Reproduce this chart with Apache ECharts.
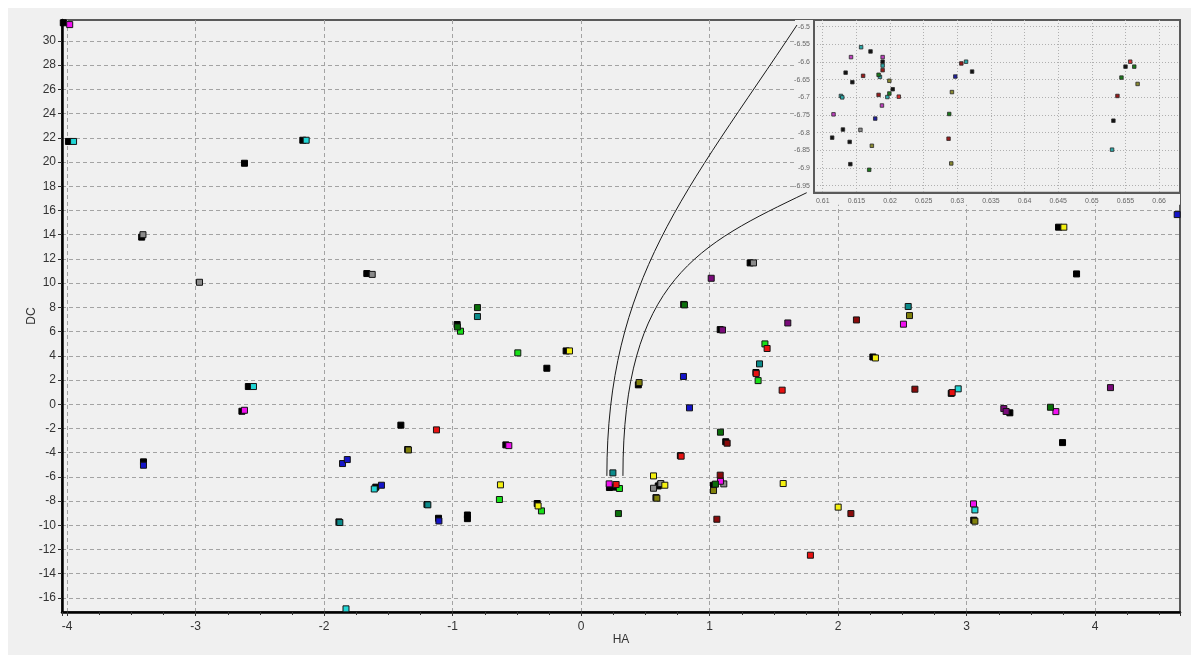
<!DOCTYPE html>
<html>
<head>
<meta charset="utf-8">
<script src="https://cdn.jsdelivr.net/npm/echarts@6/dist/echarts.min.js"></script>
<style>
  html, body { margin: 0; padding: 0; background: #ffffff; width: 1191px; height: 655px; overflow: hidden; }
  #chart { position: absolute; left: 8px; top: 8px; width: 1183px; height: 647px; }
</style>
</head>
<body>
<div id="chart"></div>
<script>
// ---- main plot points, [HA, DC] ----
const blackPts = [
  [-4.03, 31.5], [-3.99, 21.7], [-3.42, 13.8], [-2.62, 19.9], [-2.166, 21.8],
  [-2.59, 1.46], [-2.64, -0.58], [-3.406, -4.76], [-1.885, -9.72], [-1.668, 10.79],
  [-0.965, 6.58], [-0.117, 4.4], [-0.267, 2.97], [-1.403, -1.73], [-0.586, -3.36],
  [-1.35, -3.74], [-1.598, -6.85], [-1.2, -8.28], [-1.11, -9.42], [-0.885, -9.15],
  [-0.885, -9.45], [-0.342, -8.2], [0.22, -6.88], [0.265, -6.85], [0.615, -6.63],
  [0.6, -6.75], [0.582, -7.72], [0.445, 1.6], [0.772, -4.25], [1.315, 11.67],
  [1.082, 6.16], [1.36, 2.62], [1.03, -6.69], [1.125, -3.1], [2.27, 3.9],
  [3.715, 14.62], [3.855, 10.76], [2.88, 0.9], [3.336, -0.71], [3.746, -3.17],
  [3.055, -9.58], [0.798, 8.24]
];
const grayPts = [
  [-3.41, 14.0], [-2.97, 10.07], [-1.626, 10.72], [0.563, -6.94], [0.62, -6.55],
  [1.341, 11.67], [1.11, -6.58]
];
const cyanPts = [
  [-3.95, 21.7], [-2.14, 21.8], [-2.55, 1.46], [-1.83, -16.9], [-1.61, -7.0],
  [2.934, 1.27], [3.064, -8.73]
];
const tealPts = [
  [-1.878, -9.77], [-0.807, 7.24], [-1.193, -8.31], [0.247, -5.67], [1.388, 3.33],
  [2.545, 8.07]
];
const magentaPts = [
  [-3.98, 31.35], [-2.62, -0.5], [-0.563, -3.42], [0.218, -6.58], [1.084, -6.36],
  [2.508, 6.61], [3.694, -0.61], [3.053, -8.23]
];
const purplePts = [
  [1.012, 10.4], [1.1, 6.13], [1.608, 6.71], [4.119, 1.37], [3.289, -0.36], [3.307, -0.6]
];
const bluePts = [
  [-3.406, -5.04], [-1.857, -4.9], [-1.82, -4.57], [-1.554, -6.69], [-1.107, -9.64],
  [0.796, 2.29], [0.843, -0.3], [4.638, 15.66]
];
const limePts = [
  [-0.939, 6.03], [-0.493, 4.24], [-0.636, -7.87], [-0.309, -8.81], [0.298, -6.96],
  [1.43, 4.98], [1.377, 1.95]
];
const darkGreenPts = [
  [-0.807, 7.98], [-0.963, 6.38], [0.29, -9.03], [0.804, 8.2], [1.084, -2.31],
  [1.045, -6.6], [3.652, -0.25]
];
const yellowPts = [
  [-0.091, 4.4], [-0.628, -6.66], [-0.335, -8.4], [0.563, -5.92], [0.651, -6.69],
  [1.572, -6.55], [2.0, -8.5], [2.29, 3.82], [3.756, 14.62]
];
const olivePts = [
  [-1.344, -3.78], [0.451, 1.79], [0.589, -7.76], [1.03, -7.13], [2.555, 7.32], [3.064, -9.66]
];
const redPts = [
  [-1.126, -2.12], [0.778, -4.29], [0.272, -6.63], [1.447, 4.6], [1.362, 2.53],
  [1.564, 1.16], [1.784, -12.47], [2.887, 0.96]
];
const darkRedPts = [
  [1.136, -3.22], [1.082, -5.86], [1.056, -9.5], [2.099, -9.03], [2.142, 6.96], [2.597, 1.24]
];

// ---- magnified view points ----
const insetBlack = [
  [0.6171, -6.570], [0.6189, -6.599], [0.6134, -6.630], [0.6144, -6.657], [0.6204, -6.677],
  [0.6130, -6.791], [0.6114, -6.814], [0.6140, -6.826], [0.6141, -6.889], [0.6322, -6.627],
  [0.6550, -6.613], [0.6532, -6.766]
];
const insetGray = [[0.6156, -6.792]];
const insetTeal = [
  [0.6157, -6.558], [0.6189, -6.610], [0.6185, -6.642], [0.6127, -6.696], [0.6129, -6.700],
  [0.6196, -6.699], [0.6313, -6.599], [0.6530, -6.848]
];
const insetMagenta = [[0.6142, -6.586], [0.6189, -6.586], [0.6188, -6.723], [0.6116, -6.748]];
const insetNavy = [[0.6178, -6.760], [0.6297, -6.641]];
const insetDarkRed = [
  [0.6189, -6.623], [0.6160, -6.639], [0.6183, -6.693], [0.6306, -6.604], [0.6287, -6.817],
  [0.6538, -6.696]
];
const insetRed = [[0.6213, -6.698], [0.6557, -6.599]];
const insetDarkGreen = [
  [0.6183, -6.636], [0.6199, -6.689], [0.6288, -6.747], [0.6169, -6.905], [0.6544, -6.644],
  [0.6563, -6.613]
];
const insetOlive = [
  [0.6199, -6.653], [0.6173, -6.837], [0.6292, -6.685], [0.6291, -6.887], [0.6568, -6.662]
];

// axis extents
const haRange = [-4.04, 4.66];
const dcRange = [-17.16, 31.73];
const insetHaRange = [0.6087, 0.6631];
const insetDcRange = [-6.9698, -6.481];
// region of the main plot that the callout lines start from
const calloutFrom = { ha0: 0.2, ha1: 0.325, dc: -5.92 };

const chart = echarts.init(document.getElementById('chart'), null, { renderer: 'canvas' });
const FONT = 'Liberation Sans, Arial, sans-serif';

function mainSeries(color, data, border) {
  return {
    type: 'scatter', xAxisIndex: 0, yAxisIndex: 0, data: data,
    symbol: 'rect', symbolSize: 6, silent: true, z: 2,
    itemStyle: { color: color, borderColor: border || '#141414', borderWidth: 1, opacity: 1 }
  };
}
function insetSeries(color, data) {
  return {
    type: 'scatter', xAxisIndex: 1, yAxisIndex: 1, data: data,
    symbol: 'rect', symbolSize: 3.5, silent: true, z: 8,
    itemStyle: { color: color, borderColor: '#2a2a2a', borderWidth: 0.8, opacity: 1 }
  };
}

const dashed = { color: '#a3a3a3', width: 1, type: [4, 3] };
const dotted = { color: '#b0b0b0', width: 1, type: [1, 2] };

chart.setOption({
  backgroundColor: '#f0f0f0',
  animation: false,
  textStyle: { fontFamily: FONT },
  grid: [
    { left: 54, top: 12, right: 11, bottom: 43, show: true, backgroundColor: '#f0f0f0',
      borderColor: '#5a5a5a', borderWidth: 2, z: 0 },
    { left: 806, top: 12, width: 366, height: 172.7, show: true, backgroundColor: '#f0f0f0',
      borderColor: '#5a5a5a', borderWidth: 2, z: 6 }
  ],
  xAxis: [
    {
      type: 'value', gridIndex: 0, min: haRange[0], max: haRange[1], splitNumber: 9,
      name: 'HA', nameLocation: 'middle', nameGap: 22, nameMoveOverlap: false,
      nameTextStyle: { fontSize: 12, color: '#333', fontFamily: FONT },
      axisLine: { show: true, onZero: false, lineStyle: { color: '#000', width: 2.5 } },
      axisTick: { show: true, length: 4, lineStyle: { color: '#333' } },
      minorTick: { show: true, splitNumber: 4, length: 3, lineStyle: { color: '#333' } },
      axisLabel: { fontSize: 12, color: '#333', margin: 9, showMinLabel: false, showMaxLabel: false },
      splitLine: { show: true, showMinLine: false, showMaxLine: false, lineStyle: dashed }
    },
    {
      type: 'value', gridIndex: 1, min: insetHaRange[0], max: insetHaRange[1], splitNumber: 10, z: 7,
      axisLine: { show: true, onZero: false, lineStyle: { color: '#5a5a5a', width: 2 } },
      axisTick: { show: false },
      axisLabel: { fontSize: 7, color: '#666', margin: 5, showMinLabel: false, showMaxLabel: false },
      splitLine: { show: true, showMinLine: false, showMaxLine: false, lineStyle: dotted }
    }
  ],
  yAxis: [
    {
      type: 'value', gridIndex: 0, min: dcRange[0], max: dcRange[1], splitNumber: 24,
      name: 'DC', nameLocation: 'middle', nameGap: 24, nameMoveOverlap: false,
      nameTextStyle: { fontSize: 12, color: '#333', fontFamily: FONT },
      axisLine: { show: true, onZero: false, lineStyle: { color: '#000', width: 2.5 } },
      axisTick: { show: true, length: 4, lineStyle: { color: '#333' } },
      axisLabel: { fontSize: 12, color: '#333', margin: 6, showMinLabel: false, showMaxLabel: false },
      splitLine: { show: true, showMinLine: false, showMaxLine: false, lineStyle: dashed }
    },
    {
      type: 'value', gridIndex: 1, min: insetDcRange[0], max: insetDcRange[1], splitNumber: 9, z: 7,
      axisLine: { show: true, onZero: false, lineStyle: { color: '#5a5a5a', width: 2 } },
      axisTick: { show: false },
      axisLabel: { fontSize: 7, color: '#666', margin: 4, showMinLabel: false, showMaxLabel: false },
      splitLine: { show: true, showMinLine: false, showMaxLine: false, lineStyle: dotted }
    }
  ],
  series: [
    mainSeries('#000000', blackPts, '#000'),
    mainSeries('#8a8a8a', grayPts),
    mainSeries('#22d6d6', cyanPts),
    mainSeries('#0a8a8a', tealPts),
    mainSeries('#f010f0', magentaPts),
    mainSeries('#7a0a7a', purplePts),
    mainSeries('#1414c8', bluePts),
    mainSeries('#18e018', limePts),
    mainSeries('#0a6e0a', darkGreenPts),
    mainSeries('#f4f010', yellowPts),
    mainSeries('#80800a', olivePts),
    mainSeries('#e81010', redPts),
    mainSeries('#8a0a0a', darkRedPts),
    insetSeries('#111111', insetBlack),
    insetSeries('#8a8a8a', insetGray),
    insetSeries('#2aa8a8', insetTeal),
    insetSeries('#c040c0', insetMagenta),
    insetSeries('#2020a0', insetNavy),
    insetSeries('#9a1a1a', insetDarkRed),
    insetSeries('#d83030', insetRed),
    insetSeries('#1a7a1a', insetDarkGreen),
    insetSeries('#8a8a30', insetOlive)
  ]
});

// Panel behind the magnified view and the two callout curves, placed from the axes' own scales.
const c0 = chart.convertToPixel({ gridIndex: 0 }, [calloutFrom.ha0, calloutFrom.dc]);
const c1 = chart.convertToPixel({ gridIndex: 0 }, [calloutFrom.ha1, calloutFrom.dc]);
const tl = chart.convertToPixel({ gridIndex: 1 }, [insetHaRange[0], insetDcRange[1]]);
const br = chart.convertToPixel({ gridIndex: 1 }, [insetHaRange[1], insetDcRange[0]]);

const upEnd = [tl[0] - 17, tl[1] + 5];
const lowEnd = [tl[0] - 7.3, br[1]];

chart.setOption({
  graphic: [
    { type: 'rect', silent: true, z: 5,
      shape: { x: tl[0] - 19, y: tl[1], width: br[0] - tl[0] + 19, height: br[1] - tl[1] + 12 },
      style: { fill: '#f0f0f0' } },
    { type: 'bezierCurve', silent: true, z: 9,
      shape: { x1: c0[0], y1: c0[1], cpx1: c0[0], cpy1: c0[1] - 196.7,
               cpx2: upEnd[0] - 110, cpy2: upEnd[1] + 166, x2: upEnd[0], y2: upEnd[1] },
      style: { stroke: '#1a1a1a', lineWidth: 1, fill: null } },
    { type: 'bezierCurve', silent: true, z: 9,
      shape: { x1: c1[0], y1: c1[1], cpx1: c1[0], cpy1: c1[1] - 196.7,
               cpx2: lowEnd[0] - 106.7, cpy2: lowEnd[1] + 51.3, x2: lowEnd[0], y2: lowEnd[1] },
      style: { stroke: '#1a1a1a', lineWidth: 1, fill: null } }
  ]
});
</script>
</body>
</html>
